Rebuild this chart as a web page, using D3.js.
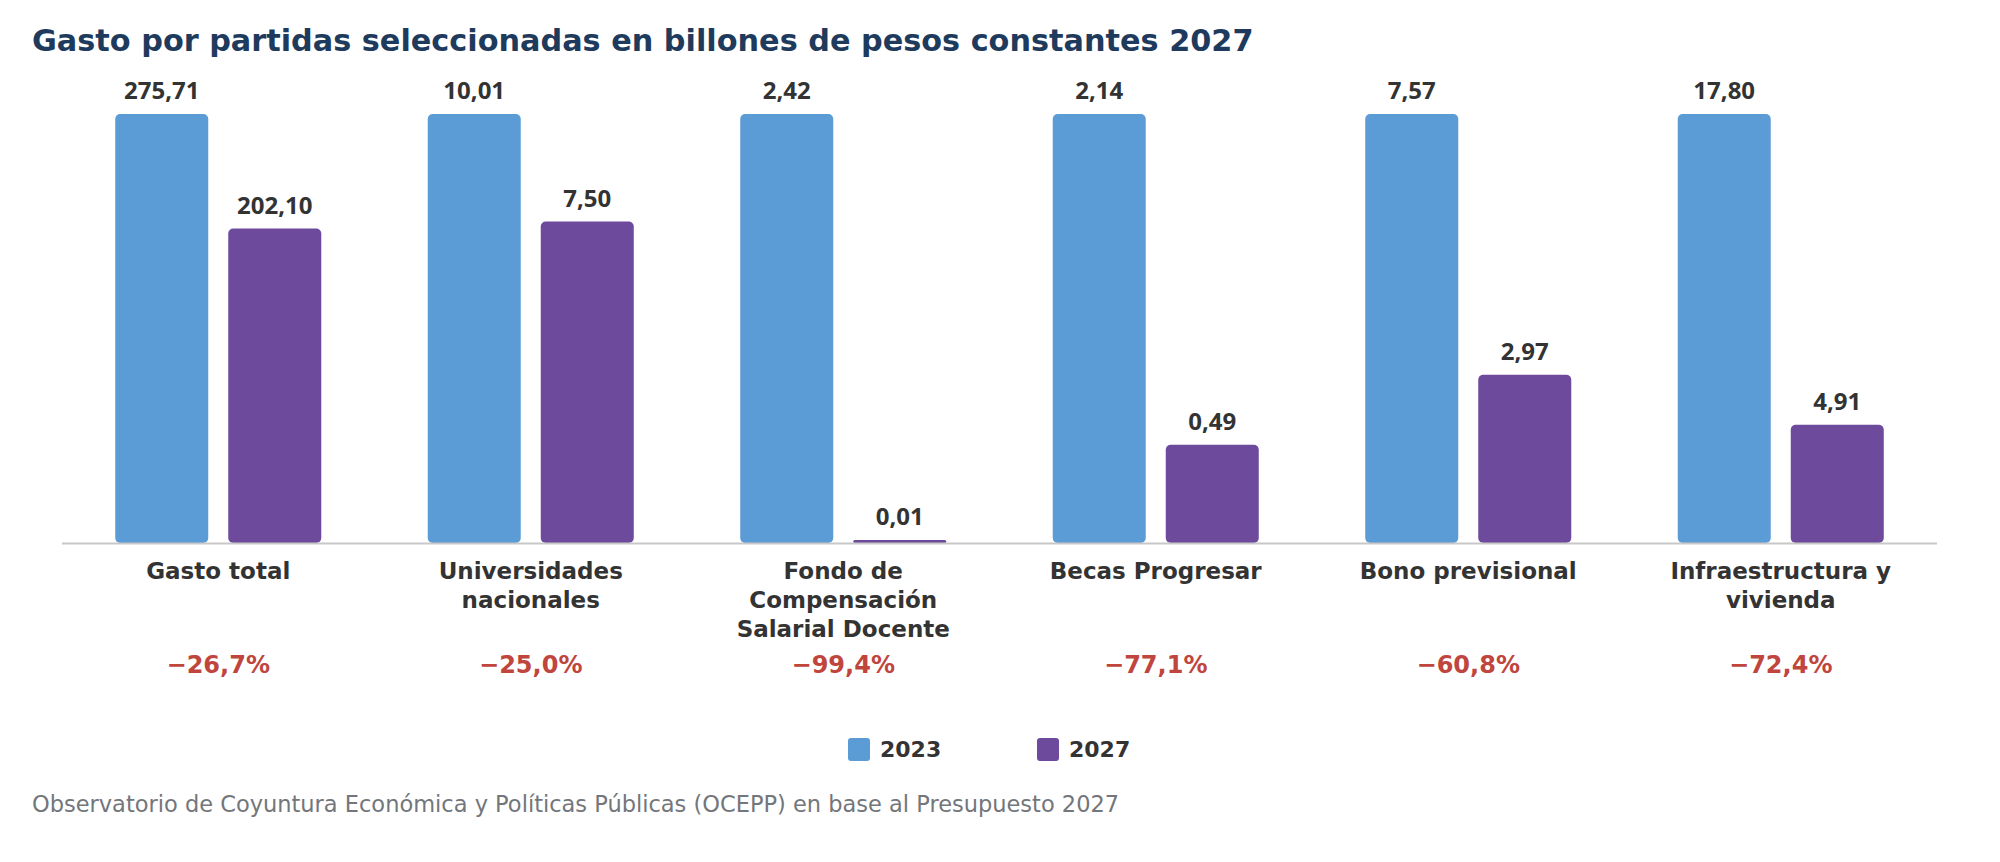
<!DOCTYPE html>
<html>
<head>
<meta charset="utf-8">
<script src="https://cdn.jsdelivr.net/npm/d3@7"></script>
<style>
  body { margin: 0; background: #fff; }
  svg { display: block; font-family: "DejaVu Sans", sans-serif; }
  .value { font-family: "Open Sans", sans-serif; }
</style>
</head>
<body>
<svg id="chart" width="2000" height="862"></svg>
<script>
// chart data
var categories = ["Gasto total", "Universidades nacionales", "Fondo de Compensación Salarial Docente",
                  "Becas Progresar", "Bono previsional", "Infraestructura y vivienda"];
var categoryLines = [["Gasto total"], ["Universidades", "nacionales"],
                     ["Fondo de", "Compensación", "Salarial Docente"], ["Becas Progresar"],
                     ["Bono previsional"], ["Infraestructura y", "vivienda"]];
var years = ["2023", "2027"];
var values2023 = [275.71, 10.01, 2.42, 2.14, 7.57, 17.80];
var values2027 = [202.10, 7.50, 0.01, 0.49, 2.97, 4.91];
var changes = [-26.7, -25.0, -99.4, -77.1, -60.8, -72.4];

var colors = {"2023": "#5b9bd6", "2027": "#6e4a9d"};

var locale = d3.formatLocale({decimal: ",", thousands: ".", grouping: [3], currency: ["$", ""], minus: "\u2212"});
var fmtValue = locale.format(".2f");
var fmtChange = locale.format(".1f");

var svg = d3.select("#chart");

var baseY = 543, topY = 114;

// one band per category
var x0 = d3.scaleBand()
    .domain(categories)
    .range([62, 1937])
    .padding(0);

// the two years inside each band
var x1 = d3.scaleBand()
    .domain(years)
    .range([0, x0.bandwidth()])
    .paddingInner(0.177)
    .paddingOuter(0.471);

// every group is scaled to its own 2023 value
var rows = categories.map(function(c, i) {
    var y = d3.scaleLinear().domain([0, values2023[i]]).range([baseY, topY]);
    return {
        name: c, lines: categoryLines[i], change: changes[i], y: y,
        bars: [{year: "2023", value: values2023[i]}, {year: "2027", value: values2027[i]}]
    };
});

// title
svg.append("text")
    .attr("x", 32)
    .attr("y", 51)
    .style("font-size", "30.3px")
    .style("font-weight", 700)
    .style("fill", "#1e3a5c")
    .text("Gasto por partidas seleccionadas en billones de pesos constantes 2027");

var groups = svg.selectAll("g.group")
    .data(rows)
  .enter().append("g")
    .attr("class", "group")
    .attr("transform", function(d) { return "translate(" + x0(d.name) + ",0)"; });

groups.selectAll("rect")
    .data(function(d) { return d.bars.map(function(b) { return {year: b.year, value: b.value, y: d.y}; }); })
  .enter().append("rect")
    .attr("x", function(d) { return x1(d.year); })
    .attr("y", function(d) { return Math.min(d.y(d.value), baseY - 3); })
    .attr("width", x1.bandwidth())
    .attr("height", function(d) { return Math.max(baseY - d.y(d.value), 3); })
    .attr("rx", function(d) { return baseY - d.y(d.value) < 10 ? 1.5 : 5; })
    .style("fill", function(d) { return colors[d.year]; });

groups.selectAll("text.value")
    .data(function(d) { return d.bars.map(function(b) { return {year: b.year, value: b.value, y: d.y}; }); })
  .enter().append("text")
    .attr("class", "value")
    .attr("x", function(d) { return x1(d.year) + x1.bandwidth() / 2; })
    .attr("y", function(d) { return Math.min(d.y(d.value), baseY - 3) - 15; })
    .attr("text-anchor", "middle")
    .style("font-size", "24px")
    .style("font-weight", 700)
    .style("fill", "#333")
    .text(function(d) { return fmtValue(d.value); });

// baseline
svg.append("line")
    .attr("x1", 62)
    .attr("x2", 1937)
    .attr("y1", baseY + 0.5)
    .attr("y2", baseY + 0.5)
    .style("stroke", "#c8c8c8")
    .style("stroke-width", 2);

// category names
groups.append("text")
    .attr("class", "category")
    .attr("text-anchor", "middle")
    .style("font-size", "23px")
    .style("font-weight", 700)
    .style("fill", "#333")
    .selectAll("tspan")
    .data(function(d) { return d.lines; })
  .enter().append("tspan")
    .attr("x", x0.bandwidth() / 2)
    .attr("y", function(d, i) { return 579 + i * 29; })
    .text(function(d) { return d; });

// change 2023 -> 2027
groups.append("text")
    .attr("x", x0.bandwidth() / 2)
    .attr("y", 673)
    .attr("text-anchor", "middle")
    .style("font-size", "24px")
    .style("font-weight", 700)
    .style("fill", "#c0453d")
    .text(function(d) { return fmtChange(d.change) + "%"; });

// legend
var legendX = [848, 1037];
var legend = svg.selectAll("g.legend")
    .data(years)
  .enter().append("g")
    .attr("class", "legend")
    .attr("transform", function(d, i) { return "translate(" + legendX[i] + ",738)"; });

legend.append("rect")
    .attr("width", 22)
    .attr("height", 23)
    .attr("rx", 3)
    .style("fill", function(d) { return colors[d]; });

legend.append("text")
    .attr("x", 32)
    .attr("y", 19)
    .style("font-size", "22px")
    .style("font-weight", 700)
    .style("fill", "#333")
    .text(function(d) { return d; });

// source note
svg.append("text")
    .attr("x", 32)
    .attr("y", 812)
    .style("font-size", "22.5px")
    .style("fill", "#73767a")
    .text("Observatorio de Coyuntura Económica y Políticas Públicas (OCEPP) en base al Presupuesto 2027");
</script>
</body>
</html>
